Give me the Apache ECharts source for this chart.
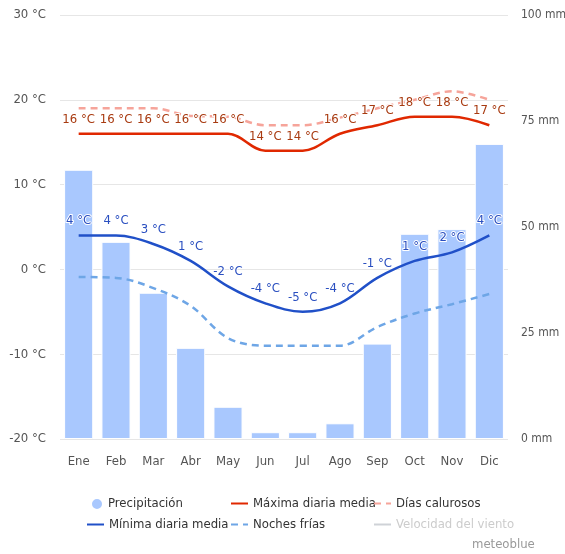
<!DOCTYPE html>
<html>
<head>
<meta charset="utf-8">
<script src="https://cdn.jsdelivr.net/npm/echarts@6/dist/echarts.min.js"></script>
<style>
html,body{margin:0;padding:0;background:#fff;}
#c{width:565px;height:554px;}
</style>
</head>
<body>
<div id="c"></div>
<script>
var months = ['Ene','Feb','Mar','Abr','May','Jun','Jul','Ago','Sep','Oct','Nov','Dic'];
var precip = [63.5, 46.5, 34.5, 21.5, 7.6, 1.6, 1.6, 3.7, 22.5, 48.4, 49.5, 69.6];
var tmax = [16, 16, 16, 16, 16, 14, 14, 16, 17, 18, 18, 17];
var hotDays = [19, 19, 19, 18.1, 18, 17, 17, 17.9, 19, 20, 21, 20];
var tmin = [4, 4, 3, 1, -2, -4, -5, -4, -1, 1, 2, 4];
var coldNights = [-0.9, -1, -2.2, -4.3, -8.1, -9, -9, -9, -6.8, -5.2, -4.1, -2.9];
var tempTicks = [-20, -10, 0, 10, 20, 30];
var mmTicks = [0, 25, 50, 75, 100];

var FONT = '"Liberation Sans Narrow","DejaVu Sans Condensed","Noto Sans",sans-serif';
var chart = echarts.init(document.getElementById('c'));

function legendItem(name, left, top, isLine, extra) {
  var item = {name: name};
  if (isLine) {
    item.itemStyle = {opacity: 0};
  } else {
    item.icon = 'circle';
  }
  var o = {
    data: [item],
    left: left, top: top,
    orient: 'horizontal',
    itemWidth: 17, itemHeight: 10,
    itemGap: 4,
    textStyle: {fontFamily: FONT, fontSize: 13, color: '#333'},
    inactiveColor: '#cccccc',
    inactiveBorderColor: '#cccccc',
    selectedMode: true
  };
  if (extra) for (var k in extra) o[k] = extra[k];
  return o;
}

chart.setOption({
  animation: false,
  grid: {left: 60, right: 57, top: 15, bottom: 115, outerBoundsMode: 'none', containLabel: false},
  graphic: [{
    type: 'text', left: 472, top: 538,
    style: {text: 'meteoblue', fill: '#999', font: '13px ' + FONT}
  }],
  legend: [
    legendItem('Precipitación', 85, 492, false, {itemWidth: 12, itemHeight: 16}),
    legendItem('Máxima diaria media', 225, 492, true),
    legendItem('Días calurosos', 368, 492, true),
    legendItem('Mínima diaria media', 81, 513, true),
    legendItem('Noches frías', 225, 513, true),
    legendItem('Velocidad del viento', 368, 513, true, {
      selected: {'Velocidad del viento': false}
    })
  ],
  xAxis: {
    type: 'category',
    data: months,
    axisLine: {show: false},
    axisTick: {show: false},
    axisLabel: {fontFamily: FONT, fontSize: 13, color: '#555', margin: 16}
  },
  yAxis: [{
    type: 'value', min: -20, max: 30, interval: 10,
    axisLabel: {
      fontFamily: FONT, fontSize: 13, color: '#555', margin: 14,
      formatter: function (v) { return tempTicks.indexOf(v) >= 0 ? v + ' °C' : ''; }
    },
    splitLine: {lineStyle: {color: '#e6e6e6', width: 1}},
    axisLine: {show: false}, axisTick: {show: false}
  }, {
    type: 'value', min: 0, max: 100, interval: 25,
    axisLabel: {
      fontFamily: FONT, fontSize: 12, color: '#555', margin: 13,
      formatter: function (v) { return mmTicks.indexOf(v) >= 0 ? v + ' mm' : ''; }
    },
    splitLine: {show: false},
    axisLine: {show: false}, axisTick: {show: false}
  }],
  series: [{
    name: 'Precipitación', type: 'bar', yAxisIndex: 1,
    data: precip, barCategoryGap: '22%',
    itemStyle: {color: '#a9c8fe', borderColor: '#ffffff', borderWidth: 1},
    z: 1
  }, {
    name: 'Días calurosos', type: 'line', yAxisIndex: 0,
    data: hotDays, smooth: 0.35, symbol: 'none',
    lineStyle: {color: '#f6a49a', width: 2.5, type: [7, 5]},
    itemStyle: {color: '#f6a49a'},
    z: 2
  }, {
    name: 'Noches frías', type: 'line', yAxisIndex: 0,
    data: coldNights, smooth: 0.35, symbol: 'none',
    lineStyle: {color: '#6ea6e6', width: 2.5, type: [7, 5]},
    itemStyle: {color: '#6ea6e6'},
    z: 2
  }, {
    name: 'Máxima diaria media', type: 'line', yAxisIndex: 0,
    data: tmax, smooth: 0.35, symbol: 'circle', symbolSize: 0, showSymbol: true,
    lineStyle: {color: '#e02800', width: 2.5},
    itemStyle: {color: '#e02800'},
    label: {
      show: true, position: 'top', distance: 8,
      formatter: function (p) { return Math.round(p.value) + ' °C'; },
      fontFamily: FONT, fontSize: 13, color: '#a83a10',
      textBorderColor: '#ffffff', textBorderWidth: 2
    },
    z: 3
  }, {
    name: 'Mínima diaria media', type: 'line', yAxisIndex: 0,
    data: tmin, smooth: 0.35, symbol: 'circle', symbolSize: 0, showSymbol: true,
    lineStyle: {color: '#2050c8', width: 2.5},
    itemStyle: {color: '#2050c8'},
    label: {
      show: true, position: 'top', distance: 8,
      formatter: function (p) { return p.value + ' °C'; },
      fontFamily: FONT, fontSize: 13, color: '#2a4fc0',
      textBorderColor: '#ffffff', textBorderWidth: 2
    },
    z: 3
  }, {
    name: 'Velocidad del viento', type: 'line', yAxisIndex: 0,
    data: [], symbol: 'none',
    lineStyle: {color: '#cccccc', width: 2.5},
    itemStyle: {color: '#cccccc'}
  }]
});
</script>
</body>
</html>
